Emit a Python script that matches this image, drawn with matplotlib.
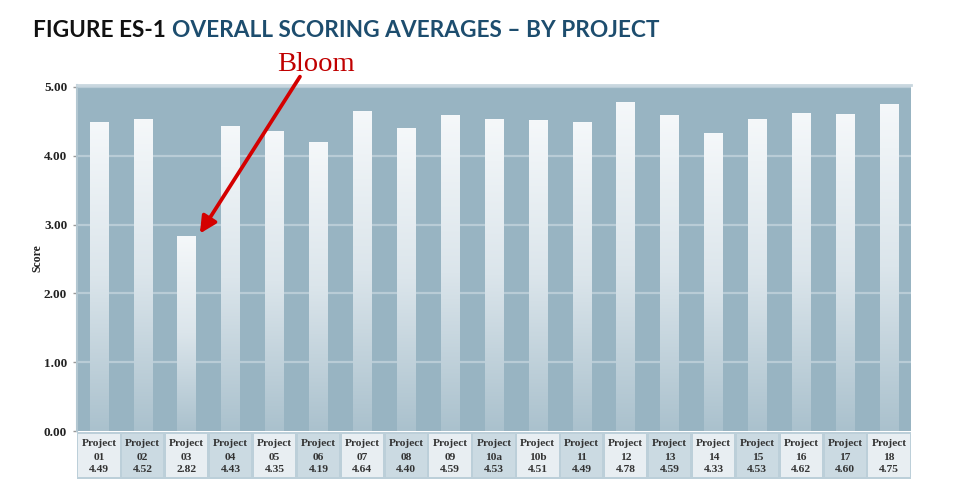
import numpy as np
import matplotlib
matplotlib.use("Agg")
import matplotlib.pyplot as plt
from matplotlib.patches import Rectangle
from matplotlib.colors import LinearSegmentedColormap

# data
projects = ["01", "02", "03", "04", "05", "06", "07", "08", "09", "10a",
            "10b", "11", "12", "13", "14", "15", "16", "17", "18"]
scores = [4.49, 4.52, 2.82, 4.43, 4.35, 4.19, 4.64, 4.40, 4.59, 4.53,
          4.51, 4.49, 4.78, 4.59, 4.33, 4.53, 4.62, 4.60, 4.75]
yticks = [0, 1, 2, 3, 4, 5]

bg = "#98b4c2"
grid_col = "#b9ccd6"
serif = ["Liberation Serif", "DejaVu Serif"]

fig = plt.figure(figsize=(9.62, 4.98), dpi=100)
ax = fig.add_axes([0.080, 0.1345, 0.867, 0.695])
ax.set_facecolor(bg)

bar_cmap = LinearSegmentedColormap.from_list("bar", ["#aac1cd", "#dbe5eb", "#f5f8fa"])
grad = np.linspace(0, 1, 256).reshape(-1, 1)
w = 0.42
x = np.arange(len(projects))
for xi, v in zip(x, scores):
    ax.imshow(grad, extent=(xi - w / 2, xi + w / 2, 0, v), origin="lower",
              cmap=bar_cmap, aspect="auto", zorder=3, interpolation="bilinear")

ax.set_xlim(-0.5, len(projects) - 0.5)
ax.set_ylim(0, 5.03)
ax.set_yticks(yticks)
ax.set_yticklabels([f"{t:.2f}" for t in yticks], family=serif,
                   fontweight="bold", fontsize=9.5, color="#222222")
ax.set_xticks([])
ax.tick_params(axis="y", length=3, width=1, color="#999999", pad=4)
for t in yticks[1:]:
    ax.axhline(t, color=grid_col, lw=1.6, zorder=1)
for s in ["right", "bottom"]:
    ax.spines[s].set_visible(False)
ax.spines["top"].set_color("#c9d7df")
ax.spines["top"].set_linewidth(2)
ax.spines["left"].set_color("#b3c7d1")
ax.spines["left"].set_linewidth(1.5)
ax.set_ylabel("Score", family=serif, fontweight="bold", fontsize=8.5,
              color="#222222", labelpad=0.5)

# table of labels under the bars
tab = fig.add_axes([0.080, 0.038, 0.867, 0.0945])
tab.set_xlim(-0.5, len(projects) - 0.5)
tab.set_ylim(0, 1)
tab.set_facecolor("#bccfd9")
tab.set_xticks([])
tab.set_yticks([])
for s in tab.spines.values():
    s.set_visible(False)
for i, (p, v) in enumerate(zip(projects, scores)):
    fc = "#e8eef2" if i % 2 == 0 else "#cbdae2"
    tab.add_patch(Rectangle((i - 0.47, 0.04), 0.94, 0.92, fc=fc, ec="none"))
    tab.text(i, 0.75, "Project", ha="center", va="center", family=serif,
             fontweight="bold", fontsize=8.2, color="#333333")
    tab.text(i, 0.45, p, ha="center", va="center", family=serif,
             fontweight="bold", fontsize=8.2, color="#333333")
    tab.text(i, 0.20, f"{v:.2f}", ha="center", va="center", family=serif,
             fontweight="bold", fontsize=8.2, color="#333333")

# title
fig.text(0.034, 0.926, "FIGURE ES-1", family=["Lato", "DejaVu Sans"],
         fontweight="bold", fontsize=16.3, color="#111111", va="baseline")
fig.text(0.179, 0.926, "OVERALL SCORING AVERAGES \u2013 BY PROJECT",
         family=["Lato", "DejaVu Sans"], fontweight="bold", fontsize=16.3,
         color="#1d4d6e", va="baseline")

# Bloom callout
fig.text(0.3285, 0.8574, "Bloom", family=serif, fontsize=20.5, color="#c00000",
         ha="center", va="baseline")
ax.annotate("", xy=(2.3, 2.87), xytext=(4.58, 5.15), annotation_clip=False,
            arrowprops=dict(arrowstyle="-|>,head_length=1.0,head_width=0.5",
                            color="#d40000", lw=2.7, shrinkA=0, shrinkB=0),
            zorder=6)

fig.savefig("out.png", dpi=100)
